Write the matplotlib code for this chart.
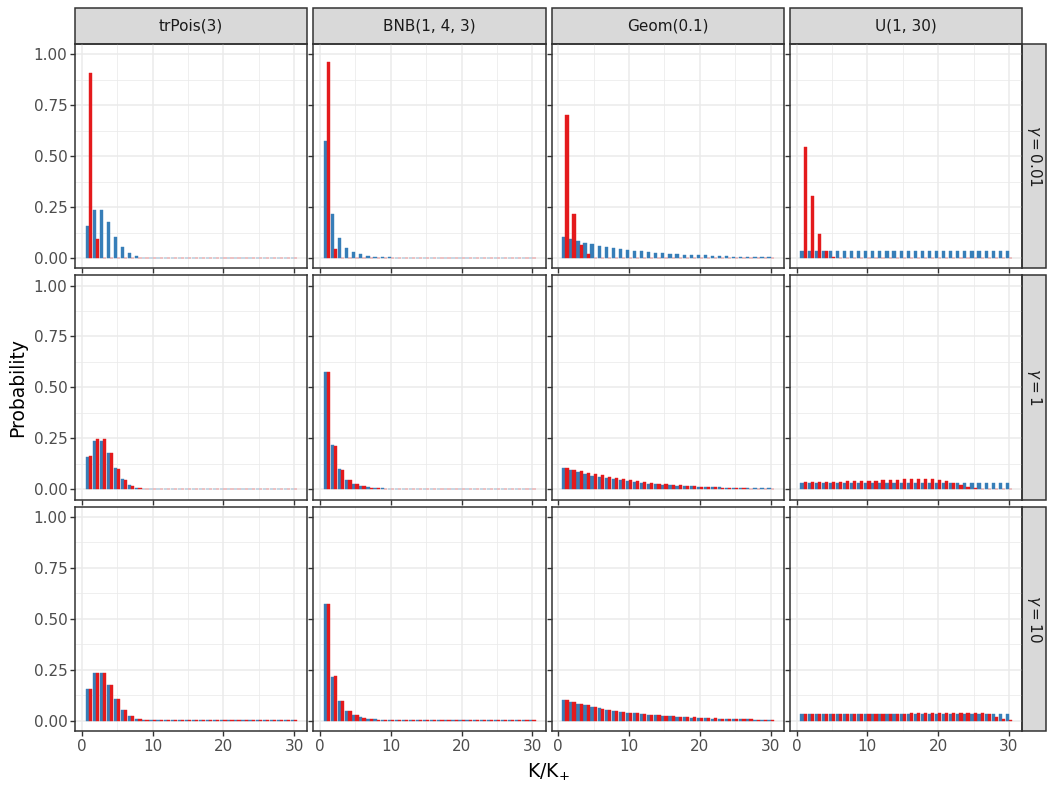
import numpy as np
import matplotlib.pyplot as plt
from matplotlib.patches import Rectangle

k = np.arange(1, 31)
col_titles = ["trPois(3)", "BNB(1, 4, 3)", "Geom(0.1)", "U(1, 30)"]
row_titles = [r"$\gamma = 0.01$", r"$\gamma = 1$", r"$\gamma = 10$"]

# prior on K (blue), one per column
prior_trpois = [0.157, 0.236, 0.236, 0.177, 0.106, 0.053, 0.023, 0.009, 0.003, 0.002,
                0.002, 0.002, 0.002, 0.002, 0.002, 0.002, 0.002, 0.002, 0.002, 0.002,
                0.002, 0.002, 0.002, 0.002, 0.002, 0.002, 0.002, 0.002, 0.002, 0.002]
prior_bnb = [0.574, 0.217, 0.098, 0.048, 0.028, 0.018, 0.010, 0.008, 0.005, 0.004,
             0.003, 0.003, 0.002, 0.002, 0.002, 0.002, 0.002, 0.002, 0.002, 0.002,
             0.002, 0.002, 0.002, 0.002, 0.002, 0.002, 0.002, 0.002, 0.002, 0.002]
prior_geom = [0.104, 0.094, 0.084, 0.076, 0.068, 0.062, 0.055, 0.050, 0.045, 0.040,
              0.036, 0.033, 0.029, 0.026, 0.024, 0.021, 0.019, 0.017, 0.016, 0.014,
              0.013, 0.011, 0.010, 0.009, 0.008, 0.007, 0.007, 0.006, 0.005, 0.005]
prior_unif = [0.0333] * 30

# implied distribution of K+ (red), one per panel
trpois_g001 = [0.906, 0.093, 0.003] + [0.002] * 27
bnb_g001 = [0.960, 0.043, 0.003] + [0.002] * 27
geom_g001 = [0.702, 0.217, 0.063, 0.018, 0.003] + [0.002] * 25
unif_g001 = [0.544, 0.306, 0.117, 0.033, 0.008] + [0.002] * 25

trpois_g1 = [0.162, 0.246, 0.246, 0.177, 0.102, 0.048, 0.018, 0.008, 0.003] + [0.002] * 21
bnb_g1 = [0.578, 0.215, 0.095, 0.046, 0.026, 0.015, 0.008, 0.006, 0.004, 0.003] + [0.002] * 20
geom_g1 = [0.104, 0.094, 0.089, 0.082, 0.077, 0.071, 0.063, 0.057, 0.051, 0.046,
           0.041, 0.036, 0.033, 0.029, 0.026, 0.022, 0.020, 0.017, 0.015, 0.013,
           0.011, 0.010, 0.009, 0.008, 0.007, 0.005, 0.004, 0.003, 0.002, 0.002]
unif_g1 = [0.035, 0.038, 0.038, 0.038, 0.038, 0.038, 0.043, 0.043, 0.043, 0.043,
           0.043, 0.048, 0.048, 0.048, 0.052, 0.052, 0.052, 0.052, 0.052, 0.048,
           0.043, 0.034, 0.024, 0.014, 0.007, 0.003, 0.002, 0.002, 0.002, 0.002]

trpois_g10 = [0.157, 0.236, 0.236, 0.177, 0.106, 0.053, 0.023, 0.009, 0.004] + [0.002] * 21
bnb_g10 = [0.574, 0.220, 0.098, 0.047, 0.027, 0.016, 0.009, 0.006, 0.004, 0.003] + [0.002] * 20
geom_g10 = [0.100, 0.090, 0.084, 0.075, 0.069, 0.060, 0.054, 0.050, 0.045, 0.040,
            0.036, 0.034, 0.030, 0.028, 0.025, 0.023, 0.020, 0.019, 0.017, 0.015,
            0.013, 0.012, 0.010, 0.009, 0.008, 0.007, 0.007, 0.006, 0.005, 0.004]
unif_g10 = [0.033] * 15 + [0.036] * 7 + [0.040, 0.040, 0.040, 0.036, 0.033, 0.018, 0.008, 0.003]

priors = [prior_trpois, prior_bnb, prior_geom, prior_unif]
posts = [[trpois_g001, bnb_g001, geom_g001, unif_g001],
         [trpois_g1, bnb_g1, geom_g1, unif_g1],
         [trpois_g10, bnb_g10, geom_g10, unif_g10]]

blue = "#377EB8"
red = "#E41A1C"
w = 0.45

fig, axes = plt.subplots(3, 4, figsize=(10.49, 7.87), dpi=100, sharex=True, sharey=True)
fig.subplots_adjust(left=0.0715, right=0.9743, top=0.9441, bottom=0.0712,
                    wspace=0.026, hspace=0.031)

for i in range(3):
    for j in range(4):
        ax = axes[i, j]
        ax.bar(k - w / 2, priors[j], width=w, color=blue, edgecolor=blue,
               linewidth=0.3, zorder=3)
        ax.bar(k + w / 2, posts[i][j], width=w, color=red, edgecolor=red,
               linewidth=0.3, zorder=3)
        ax.set_xlim(-0.95, 31.85)
        ax.set_ylim(-0.05, 1.05)
        ax.set_xticks([0, 10, 20, 30])
        ax.set_xticks([5, 15, 25], minor=True)
        ax.set_yticks([0, 0.25, 0.5, 0.75, 1.0])
        ax.set_yticks([0.125, 0.375, 0.625, 0.875], minor=True)
        ax.grid(which="major", color="#EBEBEB", lw=1.1, zorder=0)
        ax.grid(which="minor", color="#EBEBEB", lw=0.55, zorder=0)
        ax.tick_params(which="major", length=3.5, width=1, color="#333333",
                       labelsize=11, labelcolor="#4D4D4D", pad=2)
        ax.tick_params(which="minor", length=0)
        for s in ax.spines.values():
            s.set_color("#333333")
            s.set_linewidth(1.1)
        if i == 0:
            ax.add_patch(Rectangle((0, 1), 1, 36 / 224, transform=ax.transAxes,
                                   facecolor="#D9D9D9", edgecolor="#333333",
                                   lw=1.1, clip_on=False))
            ax.text(0.5, 1 + 18 / 224, col_titles[j], transform=ax.transAxes,
                    ha="center", va="center", fontsize=11, color="#1A1A1A")
        if j == 3:
            ax.add_patch(Rectangle((1, 0), 24 / 232, 1, transform=ax.transAxes,
                                   facecolor="#D9D9D9", edgecolor="#333333",
                                   lw=1.1, clip_on=False))
            ax.text(1 + 12 / 232, 0.5, row_titles[i], transform=ax.transAxes,
                    ha="center", va="center", rotation=-90, fontsize=11,
                    color="#1A1A1A")

axes[0, 0].yaxis.set_major_formatter(plt.FuncFormatter(lambda v, p: "%.2f" % v))
fig.text(0.017, 0.5075, "Probability", rotation=90, ha="center", va="center", fontsize=13.5)
fig.text(0.523, 0.018, r"$\mathregular{K/K_{+}}$", ha="center", va="center", fontsize=13.5)

plt.savefig("out.png", dpi=100)
